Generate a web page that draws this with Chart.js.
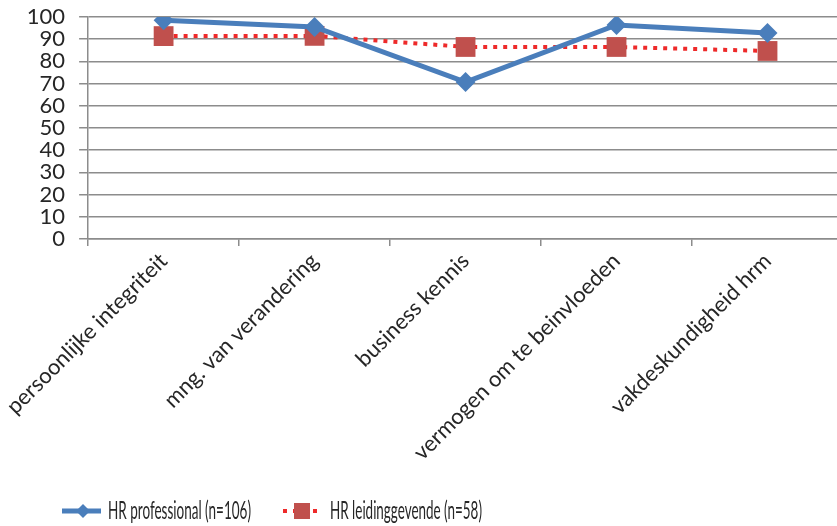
<!DOCTYPE html>
<html>
<head>
<meta charset="utf-8">
<script src="https://cdn.jsdelivr.net/npm/chart.js@4/dist/chart.umd.min.js"></script>
<style>
  html, body { margin: 0; padding: 0; background: #fff; overflow: hidden; }
  #wrap { width: 860px; height: 526px; }
</style>
</head>
<body>
<div id="wrap"><canvas id="c" width="860" height="526"></canvas></div>
<script>
// Competence areas on the x axis
const categories = [
  'persoonlijke integriteit',
  'mng. van verandering',
  'business kennis',
  'vermogen om te beinvloeden',
  'vakdeskundigheid hrm'
];
// Scores per group
const hrProfessional = [98.5, 95.5, 70.7, 96.4, 92.8];
const hrLeidinggevende = [91.4, 91.5, 86.5, 86.5, 84.7];
// Series names
const seriesNames = ['HR professional (n=106)', 'HR leidinggevende (n=58)'];
// Y axis range
const yTicks = { min: 0, max: 100, step: 10 };

const BLUE = '#4a7ebb';
const RED_LINE = '#ee2a2a';
const RED_MARK = '#c0504d';
const TEXT = '#262626';
const GRID = '#8c8c8c';

// Legend drawn as line + marker + label, under the axis labels
const lineLegend = {
  id: 'lineLegend',
  afterDraw(chart) {
    const ctx = chart.ctx;
    const y = 511;
    const items = [
      { x0: 62, x1: 101, mx: 83, ds: chart.data.datasets[0], text: seriesNames[0], tx: 108, tw: 143 },
      { x0: 283, x1: 322, mx: 302, ds: chart.data.datasets[1], text: seriesNames[1], tx: 330, tw: 152 }
    ];
    ctx.save();
    items.forEach(it => {
      const ds = it.ds;
      ctx.beginPath();
      ctx.strokeStyle = ds.borderColor;
      ctx.lineWidth = ds.borderWidth;
      ctx.setLineDash(ds.borderDash || []);
      ctx.moveTo(it.x0, y);
      ctx.lineTo(it.x1, y);
      ctx.stroke();
      ctx.setLineDash([]);
      ctx.fillStyle = ds.pointBackgroundColor;
      ctx.beginPath();
      const r = ds.legendRadius;
      if (ds.pointStyle === 'rectRot') {
        ctx.moveTo(it.mx, y - r); ctx.lineTo(it.mx + r, y);
        ctx.lineTo(it.mx, y + r); ctx.lineTo(it.mx - r, y);
      } else {
        ctx.rect(it.mx - r, y - r, 2 * r, 2 * r);
      }
      ctx.closePath();
      ctx.fill();
      // condensed label text
      ctx.fillStyle = TEXT;
      ctx.font = '25px Lato, "Open Sans", sans-serif';
      ctx.textBaseline = 'middle';
      ctx.textAlign = 'left';
      const w = ctx.measureText(it.text).width;
      const sx = Math.min(1, it.tw / w);
      ctx.save();
      ctx.translate(it.tx, y);
      ctx.scale(sx, 1);
      ctx.fillText(it.text, 0, 0);
      ctx.restore();
    });
    ctx.restore();
  }
};

new Chart(document.getElementById('c'), {
  type: 'line',
  data: {
    labels: categories,
    datasets: [
      {
        label: seriesNames[0],
        data: hrProfessional,
        borderColor: BLUE,
        borderWidth: 5,
        pointStyle: 'rectRot',
        pointRadius: 10,
        pointBackgroundColor: BLUE,
        pointBorderColor: BLUE,
        pointBorderWidth: 0,
        legendRadius: 7,
        tension: 0,
        order: 0
      },
      {
        label: seriesNames[1],
        data: hrLeidinggevende,
        borderColor: RED_LINE,
        borderWidth: 4,
        borderDash: [4, 6],
        pointStyle: 'rect',
        pointRadius: 14,
        pointBackgroundColor: RED_MARK,
        pointBorderColor: RED_MARK,
        pointBorderWidth: 0,
        legendRadius: 8,
        tension: 0,
        order: 1
      }
    ]
  },
  options: {
    responsive: false,
    animation: false,
    devicePixelRatio: 1,
    layout: { padding: { top: 17, right: 17, left: 0, bottom: 0 } },
    plugins: { legend: { display: false }, tooltip: { enabled: false } },
    scales: {
      x: {
        offset: true,
        grid: { display: true, offset: true, drawOnChartArea: false, drawTicks: true, tickLength: 7, color: GRID, lineWidth: 1.5 },
        border: { display: true, color: GRID, width: 1.5 },
        ticks: {
          color: TEXT,
          minRotation: 45,
          maxRotation: 45,
          autoSkip: false,
          padding: 2,
          font: { family: 'Lato, "Open Sans", sans-serif', size: 22 }
        },
        afterFit(scale) { scale.height = 287; }
      },
      y: {
        min: yTicks.min,
        max: yTicks.max,
        grid: { color: GRID, lineWidth: 1.5, tickLength: 9 },
        border: { display: true, color: GRID, width: 1.5 },
        ticks: {
          stepSize: yTicks.step,
          autoSkip: false,
          color: TEXT,
          padding: 14,
          font: { family: 'Lato, "Open Sans", sans-serif', size: 22 }
        },
        afterFit(scale) {
          scale.width = 86;
          scale.paddingTop = 4;
          scale.paddingBottom = 4;
        }
      }
    }
  },
  plugins: [lineLegend]
});
</script>
</body>
</html>
